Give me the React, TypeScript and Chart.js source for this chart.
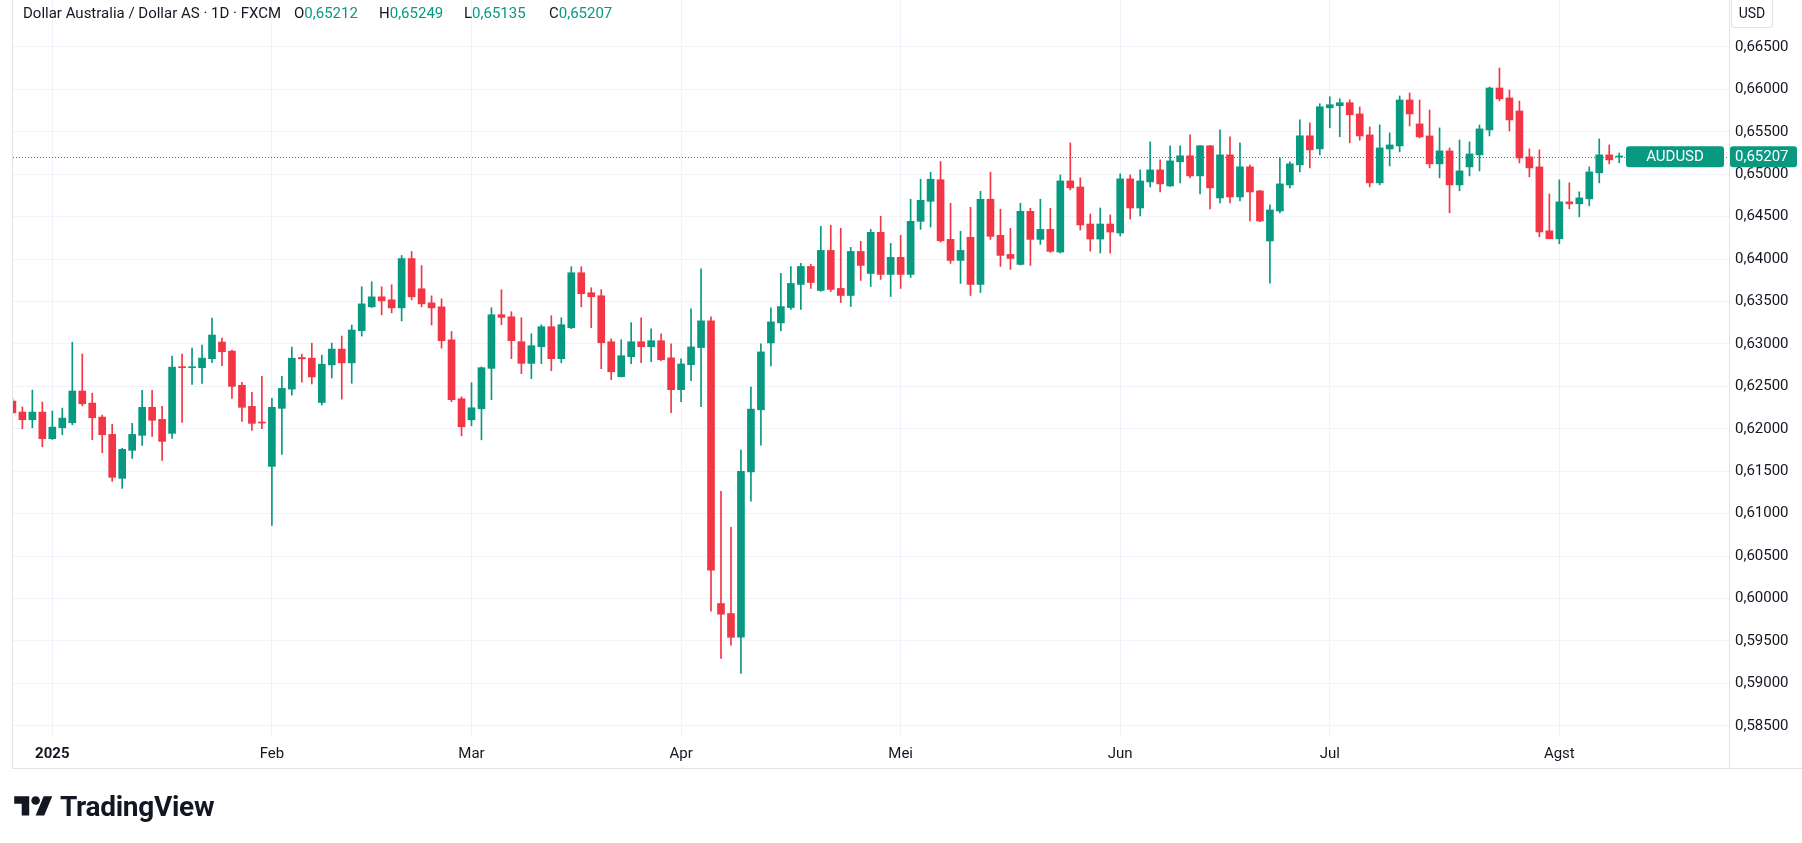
import React, { useEffect, useRef } from 'react';
import { Chart, registerables } from 'chart.js';

Chart.register(...registerables);

// ---------- data ----------
const START_DATE = '2024-12-26';
const HOLIDAYS = ['2025-01-01'];

const opens = [
  0.62327, 0.62197, 0.62106, 0.62197, 0.61883, 0.62012, 0.62071, 0.62445, 0.62303, 0.62138,
  0.61934, 0.61416, 0.61746, 0.61923, 0.62253, 0.62111, 0.61946, 0.62727, 0.62720, 0.62720,
  0.62826, 0.63022, 0.62916, 0.62512, 0.62264, 0.62076, 0.61557, 0.62241, 0.62468, 0.62840,
  0.62832, 0.62310, 0.62753, 0.62939, 0.62777, 0.63156, 0.63437, 0.63555, 0.63520, 0.63425,
  0.64006, 0.63650, 0.63484, 0.63437, 0.63048, 0.62354, 0.62106, 0.62236, 0.62712, 0.63344,
  0.63320, 0.63026, 0.62771, 0.62967, 0.63203, 0.62826, 0.63191, 0.63839, 0.63603, 0.63568,
  0.63026, 0.62614, 0.62849, 0.63026, 0.62967, 0.63038, 0.62836, 0.62461, 0.62756, 0.62957,
  0.63272, 0.59941, 0.59823, 0.59543, 0.61492, 0.62224, 0.63012, 0.63248, 0.63429, 0.63701,
  0.63913, 0.63630, 0.64102, 0.63654, 0.63571, 0.64090, 0.63830, 0.64315, 0.63819, 0.64020,
  0.63819, 0.64445, 0.64681, 0.64935, 0.64232, 0.63984, 0.64256, 0.63701, 0.64705, 0.64280,
  0.64055, 0.63937, 0.64563, 0.64232, 0.64350, 0.64083, 0.64921, 0.64850, 0.64413, 0.64236,
  0.64413, 0.64307, 0.64945, 0.64602, 0.64909, 0.65051, 0.64862, 0.65146, 0.65217, 0.64980,
  0.65335, 0.64720, 0.65228, 0.64732, 0.65087, 0.64803, 0.64213, 0.64567, 0.64874, 0.65110,
  0.65453, 0.65299, 0.65783, 0.65807, 0.65843, 0.65710, 0.65463, 0.64898, 0.65298, 0.65334,
  0.65875, 0.65593, 0.65451, 0.65122, 0.65275, 0.64874, 0.65086, 0.65228, 0.65522, 0.66016,
  0.65899, 0.65746, 0.65204, 0.65086, 0.64333, 0.64239, 0.64674, 0.64651, 0.64710, 0.65016,
  0.65228, 0.65203,
];

const highs = [
  0.62360, 0.62256, 0.62456, 0.62315, 0.62209, 0.62244, 0.63020, 0.62881, 0.62421, 0.62162,
  0.62052, 0.61770, 0.62064, 0.62453, 0.62453, 0.62264, 0.62857, 0.62881, 0.62951, 0.62987,
  0.63305, 0.63069, 0.62928, 0.62547, 0.62429, 0.62618, 0.62359, 0.62618, 0.62962, 0.62879,
  0.63010, 0.62868, 0.63010, 0.63093, 0.63223, 0.63674, 0.63733, 0.63674, 0.63698, 0.64042,
  0.64089, 0.63923, 0.63567, 0.63532, 0.63146, 0.62378, 0.62543, 0.62730, 0.63427, 0.63639,
  0.63379, 0.63309, 0.63120, 0.63226, 0.63332, 0.63309, 0.63910, 0.63910, 0.63662, 0.63639,
  0.63061, 0.63050, 0.63250, 0.63309, 0.63179, 0.63120, 0.63000, 0.62823, 0.63413, 0.63886,
  0.63319, 0.61264, 0.60839, 0.61748, 0.62492, 0.63000, 0.63425, 0.63831, 0.63913, 0.63949,
  0.63937, 0.64386, 0.64398, 0.64362, 0.64138, 0.64209, 0.64350, 0.64504, 0.64185, 0.64280,
  0.64705, 0.64941, 0.65024, 0.65150, 0.64657, 0.64327, 0.64610, 0.64799, 0.65024, 0.64587,
  0.64362, 0.64657, 0.64598, 0.64705, 0.64598, 0.64992, 0.65370, 0.64957, 0.64531, 0.64602,
  0.64520, 0.65004, 0.64992, 0.65051, 0.65382, 0.65169, 0.65335, 0.65335, 0.65465, 0.65340,
  0.65340, 0.65524, 0.65441, 0.65370, 0.65110, 0.64810, 0.64638, 0.65193, 0.65146, 0.65642,
  0.65606, 0.65831, 0.65913, 0.65890, 0.65878, 0.65793, 0.65557, 0.65581, 0.65487, 0.65922,
  0.65958, 0.65875, 0.65757, 0.65546, 0.65310, 0.65404, 0.65381, 0.65581, 0.66028, 0.66252,
  0.65993, 0.65863, 0.65298, 0.65287, 0.64768, 0.64933, 0.64898, 0.64792, 0.65086, 0.65416,
  0.65345, 0.65249,
];

const lows = [
  0.62180, 0.62000, 0.62012, 0.61788, 0.61875, 0.61930, 0.62047, 0.62271, 0.61871, 0.61718,
  0.61381, 0.61298, 0.61652, 0.61805, 0.61911, 0.61628, 0.61887, 0.62076, 0.62524, 0.62535,
  0.62778, 0.62743, 0.62359, 0.62088, 0.61982, 0.62000, 0.60862, 0.61699, 0.62397, 0.62551,
  0.62528, 0.62280, 0.62599, 0.62350, 0.62536, 0.63093, 0.63430, 0.63342, 0.63366, 0.63271,
  0.63520, 0.63437, 0.63223, 0.62951, 0.62319, 0.61917, 0.62035, 0.61870, 0.62343, 0.63226,
  0.62826, 0.62649, 0.62590, 0.62767, 0.62684, 0.62778, 0.63180, 0.63438, 0.63191, 0.62708,
  0.62578, 0.62610, 0.62767, 0.62778, 0.62790, 0.62802, 0.62189, 0.62319, 0.62567, 0.62260,
  0.59850, 0.59295, 0.59449, 0.59118, 0.61146, 0.61807, 0.62740, 0.63154, 0.63406, 0.63406,
  0.63654, 0.63620, 0.63618, 0.63488, 0.63441, 0.63748, 0.63677, 0.63760, 0.63559, 0.63654,
  0.63783, 0.64350, 0.64378, 0.64200, 0.63949, 0.63713, 0.63571, 0.63606, 0.64232, 0.63913,
  0.63878, 0.63930, 0.63925, 0.64173, 0.64079, 0.64071, 0.64815, 0.64343, 0.64094, 0.64071,
  0.64071, 0.64272, 0.64472, 0.64508, 0.64850, 0.64791, 0.64855, 0.64898, 0.64957, 0.64768,
  0.64591, 0.64661, 0.64661, 0.64685, 0.64449, 0.64440, 0.63717, 0.64543, 0.64839, 0.65028,
  0.65075, 0.65228, 0.65547, 0.65441, 0.65370, 0.65400, 0.64851, 0.64874, 0.65098, 0.65263,
  0.65569, 0.65428, 0.65075, 0.64957, 0.64545, 0.64804, 0.64980, 0.65039, 0.65451, 0.65863,
  0.65510, 0.65133, 0.64969, 0.64262, 0.64239, 0.64180, 0.64592, 0.64498, 0.64627, 0.64898,
  0.65122, 0.65135,
];

const closes = [
  0.62189, 0.62106, 0.62197, 0.61883, 0.62020, 0.62126, 0.62445, 0.62295, 0.62130, 0.61930,
  0.61428, 0.61758, 0.61934, 0.62253, 0.62100, 0.61852, 0.62727, 0.62720, 0.62727, 0.62833,
  0.63105, 0.62908, 0.62500, 0.62253, 0.62064, 0.62068, 0.62253, 0.62476, 0.62832, 0.62824,
  0.62611, 0.62761, 0.62939, 0.62777, 0.63164, 0.63472, 0.63555, 0.63508, 0.63425, 0.64006,
  0.63555, 0.63472, 0.63425, 0.63038, 0.62343, 0.62024, 0.62248, 0.62720, 0.63344, 0.63313,
  0.63038, 0.62771, 0.62979, 0.63203, 0.62826, 0.63226, 0.63839, 0.63592, 0.63556, 0.63014,
  0.62672, 0.62861, 0.63026, 0.62967, 0.63038, 0.62814, 0.62461, 0.62764, 0.62965, 0.63272,
  0.60335, 0.59815, 0.59543, 0.61500, 0.62232, 0.62906, 0.63260, 0.63440, 0.63713, 0.63913,
  0.63724, 0.64102, 0.63642, 0.63571, 0.64090, 0.63925, 0.64315, 0.63819, 0.64020, 0.63819,
  0.64445, 0.64693, 0.64941, 0.64215, 0.63984, 0.64102, 0.63701, 0.64705, 0.64268, 0.64043,
  0.64008, 0.64563, 0.64232, 0.64350, 0.64091, 0.64921, 0.64839, 0.64402, 0.64236, 0.64413,
  0.64319, 0.64945, 0.64602, 0.64921, 0.65051, 0.64886, 0.65157, 0.65217, 0.64980, 0.65335,
  0.64839, 0.65228, 0.64732, 0.65087, 0.64791, 0.64449, 0.64579, 0.64886, 0.65122, 0.65453,
  0.65287, 0.65795, 0.65819, 0.65843, 0.65701, 0.65451, 0.64898, 0.65310, 0.65345, 0.65875,
  0.65710, 0.65440, 0.65122, 0.65275, 0.64874, 0.65039, 0.65239, 0.65534, 0.66016, 0.65887,
  0.65640, 0.65192, 0.65075, 0.64320, 0.64239, 0.64674, 0.64651, 0.64721, 0.65027, 0.65228,
  0.65169, 0.65207,
];

const monthNames = ['Jan', 'Feb', 'Mar', 'Apr', 'Mei', 'Jun', 'Jul', 'Agst', 'Sep', 'Okt', 'Nov', 'Des'];
const priceTicks = [
  0.585, 0.59, 0.595, 0.6, 0.605, 0.61, 0.615, 0.62, 0.625, 0.63,
  0.635, 0.64, 0.645, 0.65, 0.655, 0.66, 0.665,
];
const symbol = 'AUDUSD';
const lastPrice = 0.65207;
const headerTitle = 'Dollar Australia / Dollar AS · 1D · FXCM';
const headerValues = [
  ['O', '0,65212'],
  ['H', '0,65249'],
  ['L', '0,65135'],
  ['C', '0,65207'],
];
const currency = 'USD';

// ---------- styling ----------
const UP = '#089981';
const DOWN = '#F23645';
const TEXT = '#131722';
const GRID = '#f0f3fa';
const BORDER = '#e0e3eb';
const FONT = 'Roboto, "Noto Sans", "DejaVu Sans", sans-serif';

function tradingDays(start: string, count: number): Date[] {
  const out: Date[] = [];
  const d = new Date(start + 'T00:00:00Z');
  while (out.length < count) {
    const dow = d.getUTCDay();
    const iso = d.toISOString().slice(0, 10);
    if (dow !== 0 && dow !== 6 && !HOLIDAYS.includes(iso)) out.push(new Date(d.getTime()));
    d.setUTCDate(d.getUTCDate() + 1);
  }
  return out;
}

const fmtPrice = (v: number) => v.toFixed(5).replace('.', ',');

export default function App() {
  const canvasRef = useRef<HTMLCanvasElement | null>(null);

  useEffect(() => {
    const canvas = canvasRef.current;
    if (!canvas) return;
    const dates = tradingDays(START_DATE, opens.length);
    const monthTicks: { value: number; label: string; year: boolean }[] = [];
    for (let i = 1; i < dates.length; i++) {
      if (dates[i].getUTCMonth() !== dates[i - 1].getUTCMonth()) {
        const m = dates[i].getUTCMonth();
        monthTicks.push({
          value: i,
          label: m === 0 ? String(dates[i].getUTCFullYear()) : monthNames[m],
          year: m === 0,
        });
      }
    }
    const labelMap = new Map(monthTicks.map((t) => [t.value, t]));
    const colors = closes.map((c, i) => (c >= opens[i] ? UP : DOWN));
    const bodies = opens.map((o, i) => ({ x: i, y: [o, closes[i]] }));
    const wicks = lows.map((l, i) => ({ x: i, y: [l, highs[i]] }));

    const overlay = {
      id: 'tvOverlay',
      beforeDatasetsDraw(chart: any) {
        const { ctx, chartArea, scales } = chart;
        const y = Math.round(scales.y.getPixelForValue(lastPrice)) + 0.5;
        ctx.save();
        ctx.strokeStyle = UP;
        ctx.lineWidth = 1;
        ctx.setLineDash([1, 2]);
        ctx.beginPath();
        ctx.moveTo(chartArea.left, y);
        ctx.lineTo(chartArea.right, y);
        ctx.stroke();
        ctx.restore();
      },
      afterDraw(chart: any) {
        const { ctx, chartArea, scales, width } = chart;
        const xs = scales.x;
        ctx.save();
        // borders
        ctx.strokeStyle = BORDER;
        ctx.lineWidth = 1;
        ctx.beginPath();
        ctx.moveTo(Math.round(chartArea.left) - 0.5, 0);
        ctx.lineTo(Math.round(chartArea.left) - 0.5, xs.bottom);
        ctx.moveTo(Math.round(chartArea.right) + 0.5, 0);
        ctx.lineTo(Math.round(chartArea.right) + 0.5, xs.bottom);
        ctx.moveTo(Math.round(chartArea.left) - 0.5, Math.round(xs.bottom) + 0.5);
        ctx.lineTo(width, Math.round(xs.bottom) + 0.5);
        ctx.stroke();

        // last price labels
        const y = scales.y.getPixelForValue(lastPrice);
        const h = 21;
        const rr = (x: number, yy: number, w: number, hh: number, r: number) => {
          ctx.beginPath();
          if (ctx.roundRect) ctx.roundRect(x, yy, w, hh, r);
          else ctx.rect(x, yy, w, hh);
          ctx.fill();
        };
        ctx.fillStyle = UP;
        rr(chartArea.right - 103, y - h / 2, 98, h, 3);
        rr(chartArea.right + 1, y - h / 2, 67, h, 3);
        ctx.fillStyle = '#ffffff';
        ctx.font = `15px ${FONT}`;
        ctx.textBaseline = 'middle';
        ctx.textAlign = 'center';
        ctx.fillText(symbol, chartArea.right - 54, y + 0.5);
        ctx.textAlign = 'left';
        ctx.fillText(fmtPrice(lastPrice), chartArea.right + 6, y + 0.5);
        ctx.restore();
      },
    };

    const chart = new Chart(canvas, {
      type: 'bar',
      data: {
        datasets: [
          {
            label: 'body',
            data: bodies as any,
            backgroundColor: colors,
            barThickness: 7,
            minBarLength: 1,
            grouped: false,
            borderWidth: 0,
          } as any,
          {
            label: 'wick',
            data: wicks as any,
            backgroundColor: colors,
            barThickness: 1,
            grouped: false,
            borderWidth: 0,
          } as any,
        ],
      },
      options: {
        animation: false,
        responsive: true,
        maintainAspectRatio: false,
        layout: { padding: { left: 13, top: 0, right: 0, bottom: 75 } },
        plugins: {
          legend: { display: false },
          tooltip: { enabled: false },
          title: { display: false },
        },
        scales: {
          x: {
            type: 'linear',
            min: 0.06,
            max: 172,
            offset: false,
            grid: { color: GRID, drawTicks: false, lineWidth: 1, offset: false },
            border: { display: false },
            afterBuildTicks: (s: any) => {
              s.ticks = monthTicks.map((t) => ({ value: t.value }));
            },
            afterFit: (s: any) => {
              s.height = 31;
              s.paddingLeft = 0;
              s.paddingRight = 0;
            },
            ticks: {
              autoSkip: false,
              maxRotation: 0,
              padding: 8,
              color: TEXT,
              font: (c: any) => ({
                family: FONT,
                size: 15,
                weight: c.tick && labelMap.get(c.tick.value)?.year ? 'bold' : 'normal',
              }),
              callback: (v: any) => labelMap.get(Number(v))?.label ?? '',
            },
          },
          y: {
            type: 'linear',
            position: 'right',
            min: 0.58368,
            max: 0.67053,
            grid: { color: GRID, drawTicks: false, lineWidth: 1 },
            border: { display: false },
            afterBuildTicks: (s: any) => {
              s.ticks = priceTicks.map((v) => ({ value: v }));
            },
            afterFit: (s: any) => {
              s.width = 73;
              s.paddingTop = 0;
              s.paddingBottom = 0;
            },
            ticks: {
              padding: 6,
              color: TEXT,
              font: { family: FONT, size: 15 },
              callback: (v: any) => fmtPrice(Number(v)),
            },
          },
        },
      } as any,
      plugins: [overlay],
    });
    return () => chart.destroy();
  }, []);

  return (
    <div
      style={{
        position: 'fixed',
        left: 0,
        top: 0,
        width: 1802,
        height: 843,
        background: '#ffffff',
        fontFamily: FONT,
        overflow: 'hidden',
      }}
    >
      <canvas ref={canvasRef} />
      <div
        style={{
          position: 'absolute',
          left: 23,
          top: 4,
          fontSize: 15,
          lineHeight: '18px',
          color: TEXT,
          whiteSpace: 'nowrap',
          pointerEvents: 'none',
        }}
      >
        {headerTitle}
      </div>
      <div
        style={{
          position: 'absolute',
          left: 294,
          top: 4,
          fontSize: 15,
          lineHeight: '18px',
          whiteSpace: 'nowrap',
          pointerEvents: 'none',
        }}
      >
        {headerValues.map(([k, v]) => (
          <span key={k} style={{ display: 'inline-block', width: 85 }}>
            <span style={{ color: TEXT }}>{k}</span>
            <span style={{ color: UP }}>{v}</span>
          </span>
        ))}
      </div>
      <div
        style={{
          position: 'absolute',
          left: 1731,
          top: 0,
          width: 42,
          height: 28,
          border: `1px solid ${BORDER}`,
          borderTop: 'none',
          borderRadius: '0 0 4px 4px',
          boxSizing: 'border-box',
          fontSize: 14,
          lineHeight: '27px',
          textAlign: 'center',
          color: TEXT,
        }}
      >
        {currency}
      </div>
      <div
        style={{
          position: 'absolute',
          left: 14,
          top: 791,
          display: 'flex',
          alignItems: 'center',
          gap: 7,
          color: TEXT,
        }}
      >
        <svg width="39" height="30" viewBox="0 0 36 28" fill={TEXT}>
          <path d="M14 22H7V11H0V4h14v18zM28 22h-8l7.5-18h8L28 22z" />
          <circle cx="20" cy="8" r="4" />
        </svg>
        <span style={{ fontSize: 28, fontWeight: 700, letterSpacing: -0.3, lineHeight: '32px' }}>TradingView</span>
      </div>
    </div>
  );
}
